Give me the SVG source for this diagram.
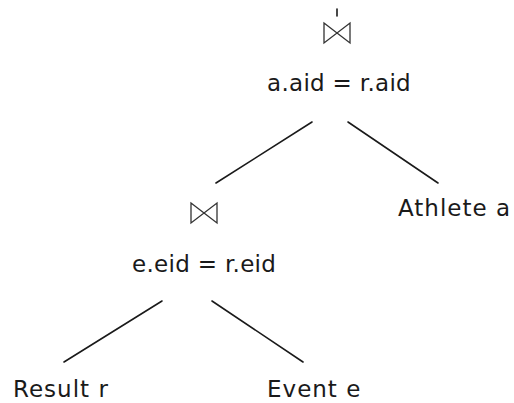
<svg xmlns="http://www.w3.org/2000/svg" width="514" height="403" viewBox="0 0 514 403">
<style>
text{font-family:"DejaVu Sans","Liberation Sans",sans-serif;fill:#1a1a1a;font-size:23px}
.name{letter-spacing:1px}
.eq{letter-spacing:0.3px}
.c{stroke:#1a1a1a;stroke-width:1.6;fill:none;stroke-linecap:round}
.bt{stroke:#333;stroke-width:1.3;fill:none;stroke-linejoin:miter}
</style>
<defs>
<path id="bowtie" class="bt" d="M-13,-10 L13,10 L13,-10 L-13,10 Z"/>
</defs>
<rect width="514" height="403" fill="#fff"/>
<g id="connectors">
<line class="c" x1="337" y1="9" x2="337" y2="16"/>
<line class="c" x1="312" y1="122" x2="216" y2="183"/>
<line class="c" x1="348" y1="122" x2="438" y2="183"/>
<line class="c" x1="162" y1="301" x2="64" y2="362"/>
<line class="c" x1="212" y1="301" x2="303" y2="362"/>
</g>
<g id="join1">
<use href="#bowtie" x="337" y="33"/>
<text class="eq" x="267" y="91">a.aid = r.aid</text>
</g>
<g id="athlete">
<text class="name" x="398" y="216">Athlete a</text>
</g>
<g id="join2">
<use href="#bowtie" x="204" y="213"/>
<text class="eq" x="132" y="272">e.eid = r.eid</text>
</g>
<g id="result">
<text class="name" x="13" y="397">Result r</text>
</g>
<g id="event">
<text class="name" x="267" y="397">Event e</text>
</g>
</svg>
